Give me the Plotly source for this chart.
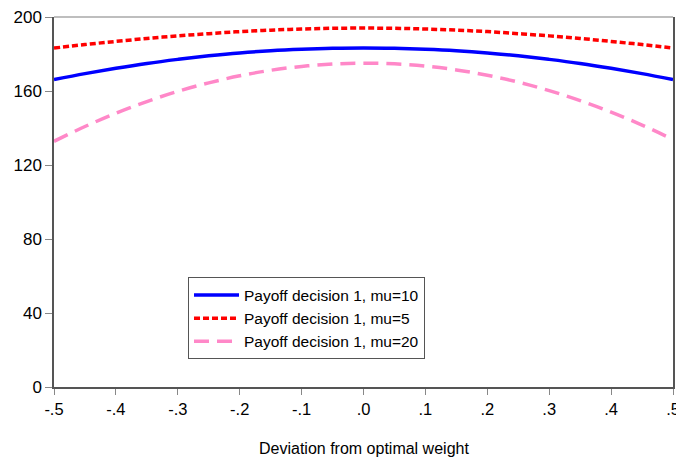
import plotly.graph_objects as go

# Data
deviation = [-0.50, -0.45, -0.40, -0.35, -0.30, -0.25, -0.20, -0.15, -0.10, -0.05,
             0.00, 0.05, 0.10, 0.15, 0.20, 0.25, 0.30, 0.35, 0.40, 0.45, 0.50]
payoff_mu10 = [166.2, 169.4, 172.3, 174.9, 177.1, 179.0, 180.6, 181.8, 182.6, 183.1,
               183.3, 183.1, 182.6, 181.8, 180.6, 179.0, 177.1, 174.9, 172.3, 169.4, 166.2]
payoff_mu5 = [183.2, 185.1, 186.8, 188.4, 189.8, 191.0, 192.1, 192.9, 193.5, 193.9,
              194.0, 193.9, 193.5, 192.9, 192.1, 191.0, 189.8, 188.4, 186.8, 185.1, 183.2]
payoff_mu20 = [132.8, 140.8, 148.0, 154.3, 159.8, 164.4, 168.2, 171.2, 173.3, 174.6,
               175.0, 174.7, 173.5, 171.4, 168.5, 164.8, 160.2, 154.8, 148.6, 141.6, 133.8]

x_tickvals = [-0.5, -0.4, -0.3, -0.2, -0.1, 0.0, 0.1, 0.2, 0.3, 0.4, 0.5]
x_ticktext = ["-.5", "-.4", "-.3", "-.2", "-.1", ".0", ".1", ".2", ".3", ".4", ".5"]
y_tickvals = [0, 40, 80, 120, 160, 200]
x_title = "Deviation from optimal weight"

font_family = "Liberation Sans, Arial, sans-serif"

fig = go.Figure()
fig.add_trace(go.Scatter(x=deviation, y=payoff_mu10, mode="lines",
                         name="Payoff decision 1, mu=10",
                         line=dict(color="#0000FF", width=3.5, shape="spline")))
fig.add_trace(go.Scatter(x=deviation, y=payoff_mu5, mode="lines",
                         name="Payoff decision 1, mu=5",
                         line=dict(color="#FF0000", width=3.5, dash="6px,3px", shape="spline")))
fig.add_trace(go.Scatter(x=deviation, y=payoff_mu20, mode="lines",
                         name="Payoff decision 1, mu=20",
                         line=dict(color="#FF88C8", width=3.5, dash="15px,8px", shape="spline")))

# page body has an 8px margin, so the figure is sized to fit the visible window
fig.update_layout(
    width=676, height=456,
    margin=dict(l=46, r=11, t=9, b=77),
    paper_bgcolor="white", plot_bgcolor="white",
    font=dict(family=font_family, size=16.5, color="black"),
    showlegend=True,
    legend=dict(x=0.2165, y=0.296, xanchor="left", yanchor="top",
                bgcolor="white", bordercolor="#555555", borderwidth=1,
                itemwidth=45,
                font=dict(size=15.5, family=font_family), tracegroupgap=0),
    xaxis=dict(range=[-0.5, 0.5], tickvals=x_tickvals, ticktext=x_ticktext,
               automargin=False, ticklabeloverflow="allow",
               showgrid=False, zeroline=False, showline=True, linecolor="#555555",
               linewidth=1.5, ticks="outside", ticklen=6, tickcolor="#888888",
               tickfont=dict(size=16.5)),
    yaxis=dict(range=[0, 200], tickvals=y_tickvals, automargin=False,
               ticklabeloverflow="allow",
               showgrid=False, zeroline=False, showline=True, linecolor="#555555",
               linewidth=1.5, mirror=True, ticks="outside", ticklen=7, tickcolor="#888888",
               tickfont=dict(size=17)),
    shapes=[dict(type="line", xref="paper", yref="paper", x0=0, x1=1, y0=1, y1=1,
                 line=dict(color="#a8a8a8", width=1.5))],
    annotations=[dict(text=x_title, xref="paper", yref="paper", x=0.5, y=-0.1667,
                      xanchor="center", yanchor="middle", showarrow=False,
                      font=dict(size=16))],
)

fig.write_html("out.html")
